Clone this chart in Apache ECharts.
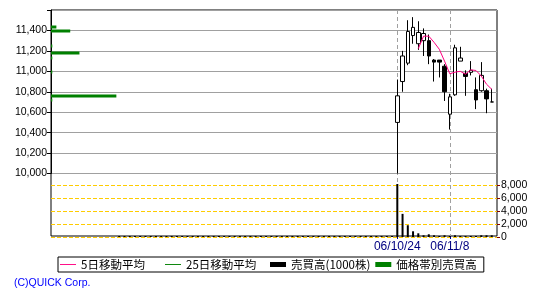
<!DOCTYPE html>
<html>
<head>
<meta charset="utf-8">
<script src="https://cdn.jsdelivr.net/npm/echarts@6/dist/echarts.min.js"></script>
<style>
html,body{margin:0;padding:0;background:#fff;}
#c{width:550px;height:300px;}
</style>
</head>
<body>
<div id="c"></div>
<script>
// ---- data ----
const categories = ['06/07/20','06/07/21','06/07/24','06/07/25','06/07/26','06/07/27','06/07/28','06/07/31',
'06/08/1','06/08/2','06/08/3','06/08/4','06/08/7','06/08/8','06/08/9','06/08/10','06/08/11','06/08/14','06/08/15','06/08/16','06/08/17','06/08/18','06/08/21','06/08/22','06/08/23','06/08/24','06/08/25','06/08/28','06/08/29','06/08/30','06/08/31',
'06/09/1','06/09/4','06/09/5','06/09/6','06/09/7','06/09/8','06/09/11','06/09/12','06/09/13','06/09/14','06/09/15','06/09/19','06/09/20','06/09/21','06/09/22','06/09/25','06/09/26','06/09/27','06/09/28','06/09/29',
'06/10/2','06/10/3','06/10/4','06/10/5','06/10/6','06/10/10','06/10/11','06/10/12','06/10/13','06/10/16','06/10/17','06/10/18','06/10/19','06/10/20','06/10/23',
'06/10/24','06/10/25','06/10/26','06/10/27','06/10/30','06/10/31','06/11/1','06/11/2','06/11/6','06/11/7','06/11/8','06/11/9','06/11/10','06/11/13','06/11/14','06/11/15','06/11/16','06/11/17','06/11/20','06/11/21'];

const tickLabels = ['06/10/24','06/11/8'];

const candleDates = ['06/10/24','06/10/25','06/10/26','06/10/27','06/10/30','06/10/31','06/11/1','06/11/2','06/11/6','06/11/7','06/11/8','06/11/9','06/11/10','06/11/13','06/11/14','06/11/15','06/11/16','06/11/17','06/11/20'];
const openP  = [10500,10900,11080,11350,11270,11300,11300,11110,11110,11050,10580,10770,11100,10980,10990,10820,10810,10810,10700];
const closeP = [10760,11150,11390,11430,11380,11370,11150,11090,11090,10800,10750,11230,11130,10950,11010,10720,10960,10730,10700];
const lowP   = [10000,10800,11060,11270,11210,11150,11070,10900,10940,10710,10430,10760,11100,10760,10960,10630,10800,10590,10700];
const highP  = [10920,11200,11500,11530,11490,11420,11360,11120,11110,11070,10780,11260,11240,11010,11100,10940,11090,10830,10830];
const ma5    = [null,null,null,null,11222,11344,11344,11284,11216,11100,10976,10992,11000,10972,11014,11008,10954,10874,10824];

// volume (1000 shares) for every category slot
const volume = [null,null,null,null,null,null,null,null,null,null,null,null,null,
0,0,0,0,0,0,0,0,0,0,0,0,0,0,0,0,0,0,0,0,0,0,0,0,0,0,0,0,0,0,0,0,0,0,0,0,0,0,0,0,0,0,0,0,0,0,0,0,0,0,0,0,0,
8150,3560,1810,880,570,260,420,260,100,260,100,260,100,100,100,100,260,260,260,null];

// volume by price band
const profilePrices  = [11430,11390,11245,11175,11130,10990,10760,10720];
const profileVolumes = [700,2500,170,3700,170,170,8500,170];

const priceTicks = {min:10000, max:11600, interval:200};
const volTicks = {min:0, max:8000, interval:2000};

// ---- build ----
const candleData = categories.map(d => {
  const i = candleDates.indexOf(d);
  return i < 0 ? '-' : [openP[i], closeP[i], lowP[i], highP[i]];
});
const maData = categories.map(d => {
  const i = candleDates.indexOf(d);
  return (i < 0 || ma5[i] == null) ? '-' : ma5[i];
});
const volData = volume.map(v => v == null ? '-' : v);
const profileData = profilePrices.map((p, i) => [profileVolumes[i], p]);

const numFont = 'Liberation Sans, Arial, sans-serif';
const isTick = (idx, val) => tickLabels.indexOf(val) >= 0;
const fmt = v => v.toLocaleString('en-US');

const chart = echarts.init(document.getElementById('c'), null, {renderer:'canvas'});
chart.setOption({
  animation:false,
  backgroundColor:'#fff',
  title:{
    text:'(C)QUICK Corp.', left:14, top:278, padding:0,
    textStyle:{fontFamily:numFont, fontSize:10.5, fontWeight:'normal', color:'#0000FF'}
  },
  legend:{
    left:58, top:257, padding:[1,7,1,2], itemGap:5, itemWidth:16, itemHeight:5,
    borderColor:'#000', borderWidth:1, selectedMode:false,
    textStyle:{fontFamily:'Noto Sans CJK JP', fontSize:11.5, color:'#000', width:79, lineHeight:13},
    data:[
      {name:'5日移動平均', icon:'path://M0,0H17V1H0Z'},
      {name:'25日移動平均', icon:'path://M0,0H17V1H0Z'},
      {name:'売買高(1000株)', icon:'rect'},
      {name:'価格帯別売買高', icon:'rect'}
    ]
  },
  grid:[
    {left:51, top:10, width:446, height:226, show:true, borderColor:'#000', borderWidth:1, backgroundColor:'transparent'},
    {left:51, top:10, width:446, height:163.5},
    {left:51, top:185, width:446, height:52},
    {left:51, top:10, width:446, height:163.5}
  ],
  xAxis:[
    {type:'category', gridIndex:0, data:categories, boundaryGap:false, position:'bottom',
     axisLine:{show:false},
     axisTick:{show:true, interval:isTick, length:3, lineStyle:{color:'#000080'}},
     axisLabel:{show:true, interval:isTick, margin:5, color:'#000080', fontFamily:numFont, fontSize:12},
     splitLine:{show:true, interval:isTick, lineStyle:{color:'#A0A0A0', type:[4,3], width:1}}},
    {type:'category', gridIndex:1, data:categories, boundaryGap:false, show:false},
    {type:'category', gridIndex:2, data:categories, boundaryGap:false, show:false},
    {type:'value', gridIndex:3, min:0, max:58000, show:false}
  ],
  yAxis:[
    {type:'value', gridIndex:0, min:0, max:1, show:false},
    {type:'value', gridIndex:1, min:priceTicks.min, max:priceTicks.max, interval:priceTicks.interval, position:'left',
     axisLine:{show:true, lineStyle:{color:'#000'}},
     axisTick:{show:true, length:4, lineStyle:{color:'#000'}},
     axisLabel:{margin:4, color:'#000', fontFamily:numFont, fontSize:10.5,
       formatter:v => v === priceTicks.max ? '' : fmt(v)},
     splitLine:{show:true, lineStyle:{color:'#A0A0A0', width:1}}},
    {type:'value', gridIndex:2, min:volTicks.min, max:volTicks.max, interval:volTicks.interval, position:'right',
     axisLine:{show:false},
     axisTick:{show:true, length:3, lineStyle:{color:'#800000'}},
     axisLabel:{margin:4, color:'#000', fontFamily:numFont, fontSize:10.5, formatter:fmt},
     splitLine:{show:true, lineStyle:{color:'#FFCC00', type:[4,2], width:1}}},
    {type:'value', gridIndex:3, min:priceTicks.min, max:priceTicks.max, show:false}
  ],
  series:[
    {name:'価格帯別売買高', type:'custom', xAxisIndex:3, yAxisIndex:3, data:profileData,
     itemStyle:{color:'#008000'},
     renderItem:(params, api) => {
       const s = api.coord([0, api.value(1)]);
       const e = api.coord([api.value(0), api.value(1)]);
       return {type:'rect', shape:{x:s[0], y:Math.round(s[1]) - 1.5, width:e[0]-s[0], height:3},
               style:{fill:'#008000'}};
     }},
    {name:'日足', type:'candlestick', xAxisIndex:1, yAxisIndex:1, data:candleData, barWidth:4,
     itemStyle:{color:'#fff', color0:'#000', borderColor:'#000', borderColor0:'#000', borderWidth:1}},
    {name:'5日移動平均', type:'line', xAxisIndex:1, yAxisIndex:1, data:maData, symbol:'none',
     color:'#FF0080', lineStyle:{color:'#FF0080', width:1}, connectNulls:false},
    {name:'25日移動平均', type:'line', xAxisIndex:1, yAxisIndex:1, data:[], symbol:'none',
     color:'#008000', lineStyle:{color:'#008000', width:1}},
    {name:'売買高(1000株)', type:'bar', xAxisIndex:2, yAxisIndex:2, data:volData, barWidth:2,
     barMinHeight:1, clip:false, itemStyle:{color:'#000'}}
  ]
});
</script>
</body>
</html>
